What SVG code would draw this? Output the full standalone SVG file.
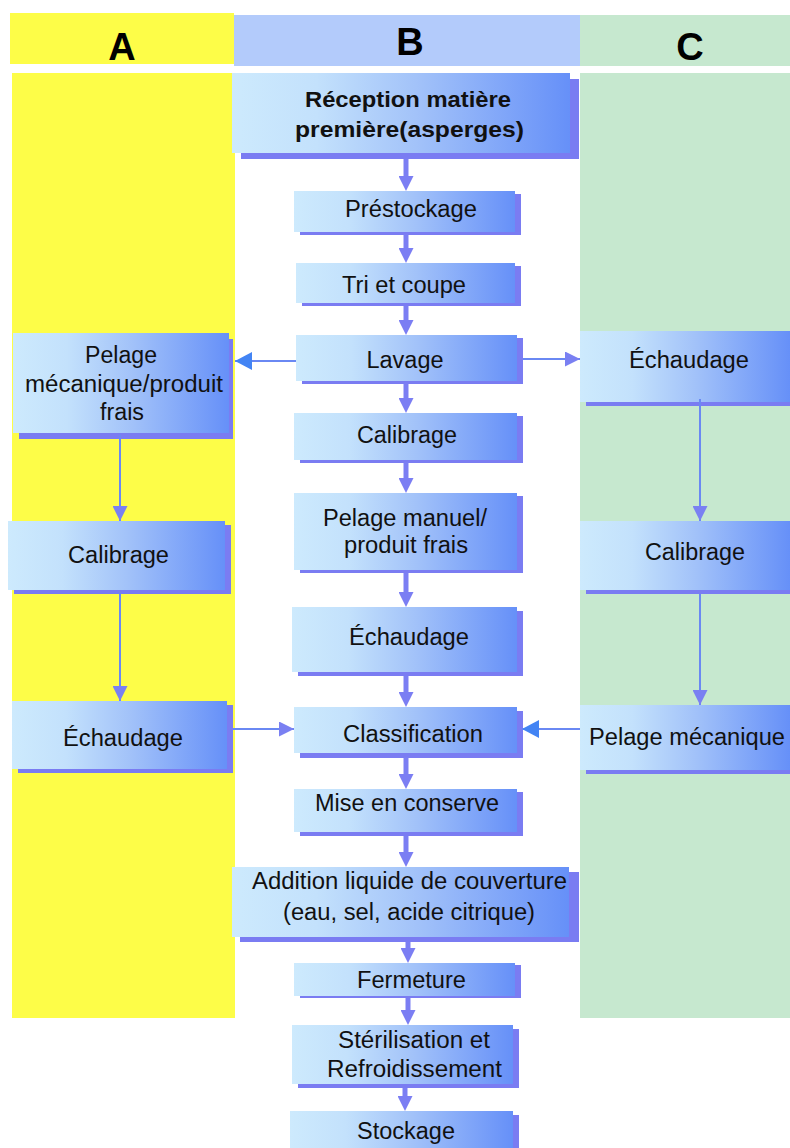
<svg xmlns="http://www.w3.org/2000/svg" width="790" height="1148" viewBox="0 0 790 1148">
  <style>
    .box { fill: url(#boxfill); }
    .shadow { fill: #7a7cf2; }
    .lbl { font-family: "Liberation Sans", Arial, sans-serif; font-size: 23px; fill: #111; text-anchor: middle; }
    .bold { font-weight: bold; font-size: 22px; }
    .hdr { font-family: "Liberation Sans", Arial, sans-serif; font-size: 38px; font-weight: bold; fill: #000; text-anchor: middle; }
    .flow { stroke: #7b7ef3; stroke-width: 5; fill: none; }
    .thin { stroke: #6a88f3; stroke-width: 2; fill: none; }
  </style>
  <defs>
    <linearGradient id="boxfill" x1="0" y1="0" x2="1" y2="0">
      <stop offset="0" stop-color="#cdeafd"/>
      <stop offset="0.25" stop-color="#c3e1fc"/>
      <stop offset="0.55" stop-color="#a2c2f9"/>
      <stop offset="1" stop-color="#6690f8"/>
    </linearGradient>
    <marker id="hd-thick" markerUnits="userSpaceOnUse" viewBox="0 0 15 15" markerWidth="15" markerHeight="15" refX="5" refY="7.5" orient="auto">
      <path d="M0,0 L15,7.5 L0,15 Z" fill="#7b7ef3"/>
    </marker>
    <marker id="hd-thin" markerUnits="userSpaceOnUse" viewBox="0 0 15 15" markerWidth="15" markerHeight="15" refX="15" refY="7.5" orient="auto">
      <path d="M0,0 L15,7.5 L0,15 Z" fill="#7a80f2"/>
    </marker>
    <marker id="hd-blue" markerUnits="userSpaceOnUse" viewBox="0 0 17 18" markerWidth="17" markerHeight="18" refX="17" refY="9" orient="auto">
      <path d="M0,0 L17,9 L0,18 Z" fill="#4384f4"/>
    </marker>
  </defs>

  <rect width="790" height="1148" fill="#fff"/>

  <!-- lanes -->
  <g id="lanes">
    <rect x="10" y="13" width="224" height="51" fill="#fdfd48"/>
    <rect x="234" y="15" width="346" height="51" fill="#b3cbfb"/>
    <rect x="580" y="15" width="210" height="51" fill="#c6e8cf"/>
    <rect x="12" y="73" width="223" height="945" fill="#fdfd48"/>
    <rect x="580" y="73" width="210" height="945" fill="#c6e8cf"/>
    <text class="hdr" x="122" y="60">A</text>
    <text class="hdr" x="410" y="55">B</text>
    <text class="hdr" x="690" y="60">C</text>
  </g>

  <!-- column B -->
  <g id="reception">
    <rect class="shadow" x="241" y="79" width="338" height="80"/>
    <rect class="box" x="232" y="73" width="338" height="80"/>
    <text class="lbl bold" x="408" y="107" textLength="206" lengthAdjust="spacingAndGlyphs">Réception matière</text>
    <text class="lbl bold" x="409.5" y="137" textLength="229" lengthAdjust="spacingAndGlyphs">première(asperges)</text>
  </g>
  <g id="prestockage">
    <rect class="shadow" x="300" y="194" width="221" height="41"/>
    <rect class="box" x="294" y="191" width="221" height="41"/>
    <text class="lbl" x="411" y="217" textLength="132" lengthAdjust="spacingAndGlyphs">Préstockage</text>
  </g>
  <g id="tri">
    <rect class="shadow" x="302" y="266" width="219" height="40"/>
    <rect class="box" x="296" y="263" width="219" height="40"/>
    <text class="lbl" x="404" y="293" textLength="124" lengthAdjust="spacingAndGlyphs">Tri et coupe</text>
  </g>
  <g id="lavage">
    <rect class="shadow" x="302" y="338" width="221" height="46"/>
    <rect class="box" x="296" y="335" width="221" height="46"/>
    <text class="lbl" x="405" y="368" textLength="77" lengthAdjust="spacingAndGlyphs">Lavage</text>
  </g>
  <g id="calibrage-b">
    <rect class="shadow" x="300" y="416" width="223" height="47"/>
    <rect class="box" x="294" y="413" width="223" height="47"/>
    <text class="lbl" x="407" y="443" textLength="100" lengthAdjust="spacingAndGlyphs">Calibrage</text>
  </g>
  <g id="pelage-manuel">
    <rect class="shadow" x="300" y="496" width="223" height="77"/>
    <rect class="box" x="294" y="493" width="223" height="77"/>
    <text class="lbl" x="405" y="526" textLength="164" lengthAdjust="spacingAndGlyphs">Pelage manuel/</text>
    <text class="lbl" x="406" y="553" textLength="124" lengthAdjust="spacingAndGlyphs">produit frais</text>
  </g>
  <g id="echaudage-b">
    <rect class="shadow" x="298" y="611" width="225" height="65"/>
    <rect class="box" x="292" y="607" width="225" height="65"/>
    <text class="lbl" x="409" y="645" textLength="120" lengthAdjust="spacingAndGlyphs">Échaudage</text>
  </g>
  <g id="classification">
    <rect class="shadow" x="300" y="711" width="223" height="47"/>
    <rect class="box" x="294" y="707" width="223" height="46"/>
    <text class="lbl" x="413" y="742" textLength="140" lengthAdjust="spacingAndGlyphs">Classification</text>
  </g>
  <g id="mise-en-conserve">
    <rect class="shadow" x="300" y="792" width="223" height="44"/>
    <rect class="box" x="294" y="789" width="223" height="43"/>
    <text class="lbl" x="407" y="811" textLength="184" lengthAdjust="spacingAndGlyphs">Mise en conserve</text>
  </g>
  <g id="addition">
    <rect class="shadow" x="240" y="872" width="339" height="70"/>
    <rect class="box" x="232" y="867" width="337" height="70"/>
    <text class="lbl" x="409.5" y="889" textLength="315" lengthAdjust="spacingAndGlyphs">Addition liquide de couverture</text>
    <text class="lbl" x="409" y="920" textLength="252" lengthAdjust="spacingAndGlyphs">(eau, sel, acide citrique)</text>
  </g>
  <g id="fermeture">
    <rect class="shadow" x="300" y="965" width="221" height="33"/>
    <rect class="box" x="294" y="963" width="221" height="33"/>
    <text class="lbl" x="411.5" y="988" textLength="109" lengthAdjust="spacingAndGlyphs">Fermeture</text>
  </g>
  <g id="sterilisation">
    <rect class="shadow" x="298" y="1029" width="221" height="59"/>
    <rect class="box" x="292" y="1025" width="221" height="59"/>
    <text class="lbl" x="414" y="1048" textLength="152" lengthAdjust="spacingAndGlyphs">Stérilisation et</text>
    <text class="lbl" x="414.5" y="1077" textLength="175" lengthAdjust="spacingAndGlyphs">Refroidissement</text>
  </g>
  <g id="stockage">
    <rect class="shadow" x="296" y="1115" width="223" height="50"/>
    <rect class="box" x="290" y="1111" width="223" height="50"/>
    <text class="lbl" x="406" y="1139" textLength="98" lengthAdjust="spacingAndGlyphs">Stockage</text>
  </g>

  <!-- column A -->
  <g id="pelage-mecanique-a">
    <rect class="shadow" x="19" y="339" width="214" height="100"/>
    <rect class="box" x="13" y="333" width="216" height="100"/>
    <text class="lbl" x="121" y="363" textLength="72" lengthAdjust="spacingAndGlyphs">Pelage</text>
    <text class="lbl" x="124" y="392" textLength="198" lengthAdjust="spacingAndGlyphs">mécanique/produit</text>
    <text class="lbl" x="122" y="420" textLength="44" lengthAdjust="spacingAndGlyphs">frais</text>
  </g>
  <g id="calibrage-a">
    <rect class="shadow" x="14" y="525" width="217" height="69"/>
    <rect class="box" x="8" y="521" width="217" height="69"/>
    <text class="lbl" x="118.5" y="563" textLength="101" lengthAdjust="spacingAndGlyphs">Calibrage</text>
  </g>
  <g id="echaudage-a">
    <rect class="shadow" x="18" y="705" width="215" height="68"/>
    <rect class="box" x="12" y="701" width="215" height="68"/>
    <text class="lbl" x="123" y="746" textLength="120" lengthAdjust="spacingAndGlyphs">Échaudage</text>
  </g>

  <!-- column C -->
  <g id="echaudage-c">
    <rect class="shadow" x="586" y="335" width="210" height="71"/>
    <rect class="box" x="580" y="331" width="210" height="71"/>
    <text class="lbl" x="689" y="368" textLength="120" lengthAdjust="spacingAndGlyphs">Échaudage</text>
  </g>
  <g id="calibrage-c">
    <rect class="shadow" x="586" y="525" width="210" height="69"/>
    <rect class="box" x="580" y="521" width="210" height="69"/>
    <text class="lbl" x="695" y="560" textLength="100" lengthAdjust="spacingAndGlyphs">Calibrage</text>
  </g>
  <g id="pelage-mecanique-c">
    <rect class="shadow" x="586" y="709" width="210" height="65"/>
    <rect class="box" x="580" y="705" width="210" height="65"/>
    <text class="lbl" x="687" y="745" textLength="196" lengthAdjust="spacingAndGlyphs">Pelage mécanique</text>
  </g>

  <!-- connectors -->
  <g id="connectors">
    <line class="flow" x1="406" y1="159" x2="406" y2="181" marker-end="url(#hd-thick)"/>
    <line class="flow" x1="406" y1="234" x2="406" y2="253" marker-end="url(#hd-thick)"/>
    <line class="flow" x1="406" y1="306" x2="406" y2="325" marker-end="url(#hd-thick)"/>
    <line class="flow" x1="406" y1="383" x2="406" y2="403" marker-end="url(#hd-thick)"/>
    <line class="flow" x1="406" y1="462" x2="406" y2="483" marker-end="url(#hd-thick)"/>
    <line class="flow" x1="406" y1="573" x2="406" y2="597" marker-end="url(#hd-thick)"/>
    <line class="flow" x1="406" y1="676" x2="406" y2="697" marker-end="url(#hd-thick)"/>
    <line class="flow" x1="406" y1="757" x2="406" y2="779" marker-end="url(#hd-thick)"/>
    <line class="flow" x1="406" y1="836" x2="406" y2="857" marker-end="url(#hd-thick)"/>
    <line class="flow" x1="408" y1="942" x2="408" y2="953" marker-end="url(#hd-thick)"/>
    <line class="flow" x1="408" y1="998" x2="408" y2="1015" marker-end="url(#hd-thick)"/>
    <line class="flow" x1="405" y1="1088" x2="405" y2="1101" marker-end="url(#hd-thick)"/>

    <line class="thin" x1="296" y1="361" x2="235" y2="361" marker-end="url(#hd-blue)"/>
    <line class="thin" x1="523" y1="359" x2="580" y2="359" marker-end="url(#hd-thin)"/>

    <line class="thin" x1="120" y1="435" x2="120" y2="521" marker-end="url(#hd-thin)"/>
    <line class="thin" x1="120" y1="593" x2="120" y2="701" marker-end="url(#hd-thin)"/>
    <line class="thin" x1="233" y1="729" x2="294" y2="729" marker-end="url(#hd-thin)"/>

    <line class="thin" x1="700" y1="399" x2="700" y2="521" marker-end="url(#hd-thin)"/>
    <line class="thin" x1="700" y1="594" x2="700" y2="705" marker-end="url(#hd-thin)"/>
    <line class="thin" x1="580" y1="729" x2="522" y2="729" marker-end="url(#hd-blue)"/>
  </g>
</svg>
